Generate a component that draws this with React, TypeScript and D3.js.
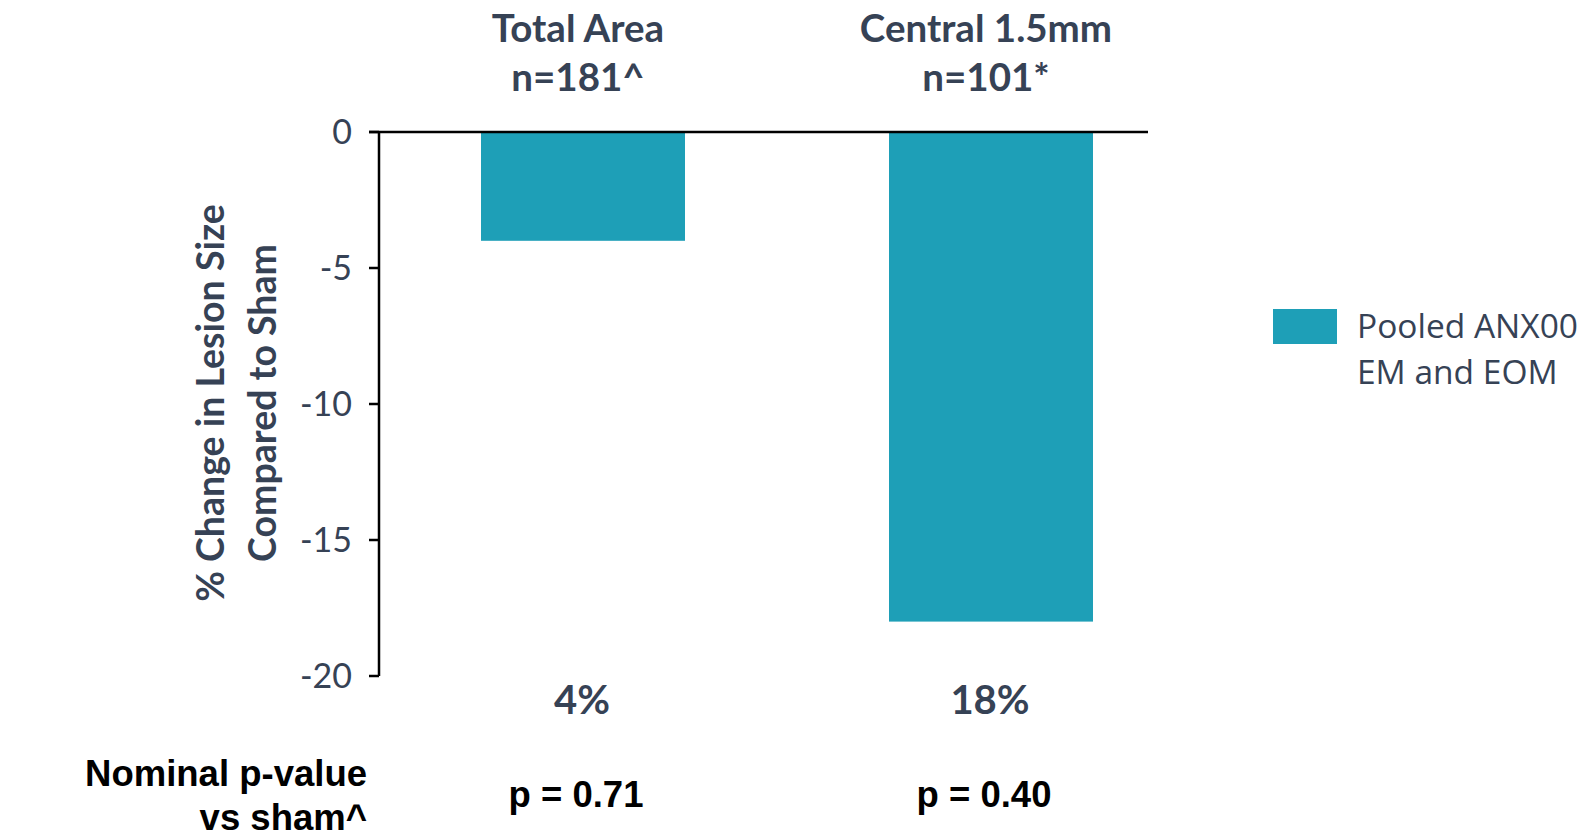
import React from "react";
import * as d3 from "d3";

const categories = ["Total Area", "Central 1.5mm"];
const sampleSizes = ["n=181^", "n=101*"];
const changeValues = [-4, -18];
const percentLabels = ["4%", "18%"];
const pValues = ["p = 0.71", "p = 0.40"];
const yTicks = [0, -5, -10, -15, -20];
const legendLines = ["Pooled ANX007", "EM and EOM"];

const W = 1578;
const H = 839;
const TEXT = "#364255";
const BAR = "#1E9FB7";
const FONT = "Lato, 'Open Sans', sans-serif";
const SANS = "'Open Sans', 'Noto Sans', sans-serif";
const ARIAL = "'Liberation Sans', Arial, sans-serif";

export default function App() {
  const axisX = 379;
  const y = d3.scaleLinear().domain([-20, 0]).range([676, 132]);
  const x = d3
    .scaleBand<string>()
    .domain(categories)
    .range([axisX, 1195])
    .paddingInner(0.5)
    .paddingOuter(0.25);
  const bw = x.bandwidth();

  return (
    <svg
      width={W}
      height={H}
      style={{ position: "absolute", left: 0, top: 0, background: "#fff" }}
    >
      {/* bars */}
      {categories.map((c, i) => (
        <rect
          key={c}
          x={x(c)}
          y={y(0)}
          width={bw}
          height={y(changeValues[i]) - y(0)}
          fill={BAR}
        />
      ))}

      {/* y axis */}
      <line x1={axisX} x2={axisX} y1={y(0)} y2={y(-20)} stroke="#000" strokeWidth={2.5} />
      <line x1={axisX - 10} x2={1148} y1={y(0)} y2={y(0)} stroke="#000" strokeWidth={2.5} />
      {yTicks.map((t) => (
        <g key={t}>
          <line x1={axisX - 10} x2={axisX} y1={y(t)} y2={y(t)} stroke="#000" strokeWidth={2.5} />
          <text
            x={axisX - 27}
            y={y(t)}
            dy="0.36em"
            textAnchor="end"
            fontFamily={FONT}
            fontSize={34}
            fill={TEXT}
          >
            {t}
          </text>
        </g>
      ))}

      {/* y axis title */}
      <g transform={`translate(211, 403) rotate(-90)`}>
        <text textAnchor="middle" dy="0.35em" fontFamily={FONT} fontWeight={700} fontSize={37.5} fill={TEXT}>
          % Change in Lesion Size
        </text>
        <text y={52} textAnchor="middle" dy="0.35em" fontFamily={FONT} fontWeight={700} fontSize={37.5} fill={TEXT}>
          Compared to Sham
        </text>
      </g>

      {/* category headers, reduction labels and p-values */}
      {categories.map((c, i) => {
        const cx = (x(c) as number) + bw / 2 - 5;
        return (
          <g key={c}>
            <text x={cx} y={42} textAnchor="middle" fontFamily={FONT} fontWeight={700} fontSize={38.5} fill={TEXT}>
              {c}
            </text>
            <text x={cx} y={91} textAnchor="middle" fontFamily={FONT} fontWeight={700} fontSize={38.5} fill={TEXT}>
              {sampleSizes[i]}
            </text>
            <text x={cx + 4} y={714} textAnchor="middle" fontFamily={FONT} fontWeight={700} fontSize={40} fill={TEXT}>
              {percentLabels[i]}
            </text>
            <text
              x={cx - 2}
              y={807}
              textAnchor="middle"
              fontFamily={ARIAL}
              fontWeight={700}
              fontSize={36.5}
              fill="#000"
            >
              {pValues[i]}
            </text>
          </g>
        );
      })}

      {/* p-value row label */}
      <text x={367} y={786} textAnchor="end" fontFamily={ARIAL} fontWeight={700} fontSize={36.5} fill="#000">
        Nominal p-value
      </text>
      <text x={367} y={830} textAnchor="end" fontFamily={ARIAL} fontWeight={700} fontSize={36.5} fill="#000">
        vs sham^
      </text>

      {/* legend */}
      <rect x={1273} y={309} width={64} height={35} fill={BAR} />
      {legendLines.map((l, i) => (
        <text key={l} x={1357} y={338 + i * 46} fontFamily={SANS} fontSize={33.5} fill={TEXT}>
          {l}
        </text>
      ))}
    </svg>
  );
}
